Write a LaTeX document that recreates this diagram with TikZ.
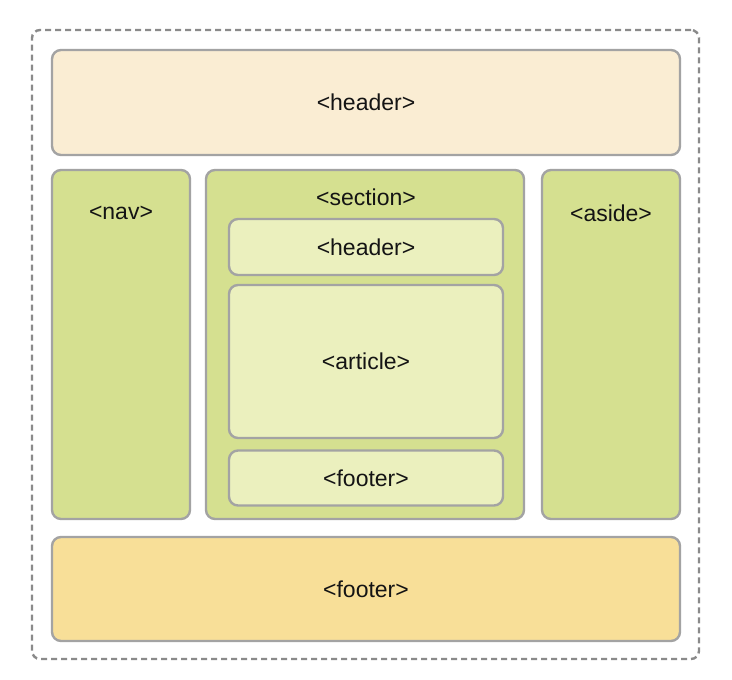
\documentclass[tikz,border=0pt]{standalone}
\usepackage{fontspec}
\setmainfont{Liberation Sans}
\definecolor{strokegray}{HTML}{A3A3A3}
\definecolor{dashgray}{HTML}{8A8A8A}
\definecolor{creamfill}{HTML}{FAEDD3}
\definecolor{greenfill}{HTML}{D5E090}
\definecolor{lightgreen}{HTML}{EBF0BE}
\definecolor{yellowfill}{HTML}{F8DF98}
\definecolor{txt}{HTML}{141414}
\tikzset{
  box/.style={draw=strokegray, line width=2.4pt, rounded corners=9pt, rectangle, inner sep=0pt},
  outerbox/.style={draw=dashgray, line width=2.4pt, dash pattern=on 6pt off 4pt, rounded corners=8pt, rectangle, inner sep=0pt},
  lbl/.style={text=txt, font=\fontsize{23}{26}\selectfont, inner sep=0pt}
}
\begin{document}
\begin{tikzpicture}[x=1pt, y=-1pt]
\useasboundingbox (0,0) rectangle (732,680);
\node[outerbox, minimum width=667pt, minimum height=629pt] (outer) at (365.5,344.5) {};
\node[box, fill=creamfill, minimum width=628pt, minimum height=105pt] (hdr) at (366,102.5) {};
\node[box, fill=greenfill, minimum width=138pt, minimum height=349pt] (nav) at (121,344.5) {};
\node[box, fill=greenfill, minimum width=318pt, minimum height=349pt] (sec) at (365,344.5) {};
\node[box, fill=greenfill, minimum width=138pt, minimum height=349pt] (aside) at (611,344.5) {};
\node[box, fill=yellowfill, minimum width=628pt, minimum height=104pt] (ftr) at (366,589) {};
\node[box, fill=lightgreen, minimum width=274pt, minimum height=56pt] (ihdr) at (366,247) {};
\node[box, fill=lightgreen, minimum width=274pt, minimum height=153pt] (art) at (366,361.5) {};
\node[box, fill=lightgreen, minimum width=274pt, minimum height=55pt] (iftr) at (366,478) {};

\node[lbl] (thdr) at (hdr.center) {<header>};
\node[lbl] (tnav) at (121,213) {<nav>};
\node[lbl] (tsec) at (366,197) {<section>};
\node[lbl] (taside) at (611,213) {<aside>};
\node[lbl] (tihdr) at (ihdr.center) {<header>};
\node[lbl] (tart) at (art.center) {<article>};
\node[lbl] (tiftr) at (iftr.center) {<footer>};
\node[lbl] (tftr) at (ftr.center) {<footer>};
\end{tikzpicture}
\end{document}
